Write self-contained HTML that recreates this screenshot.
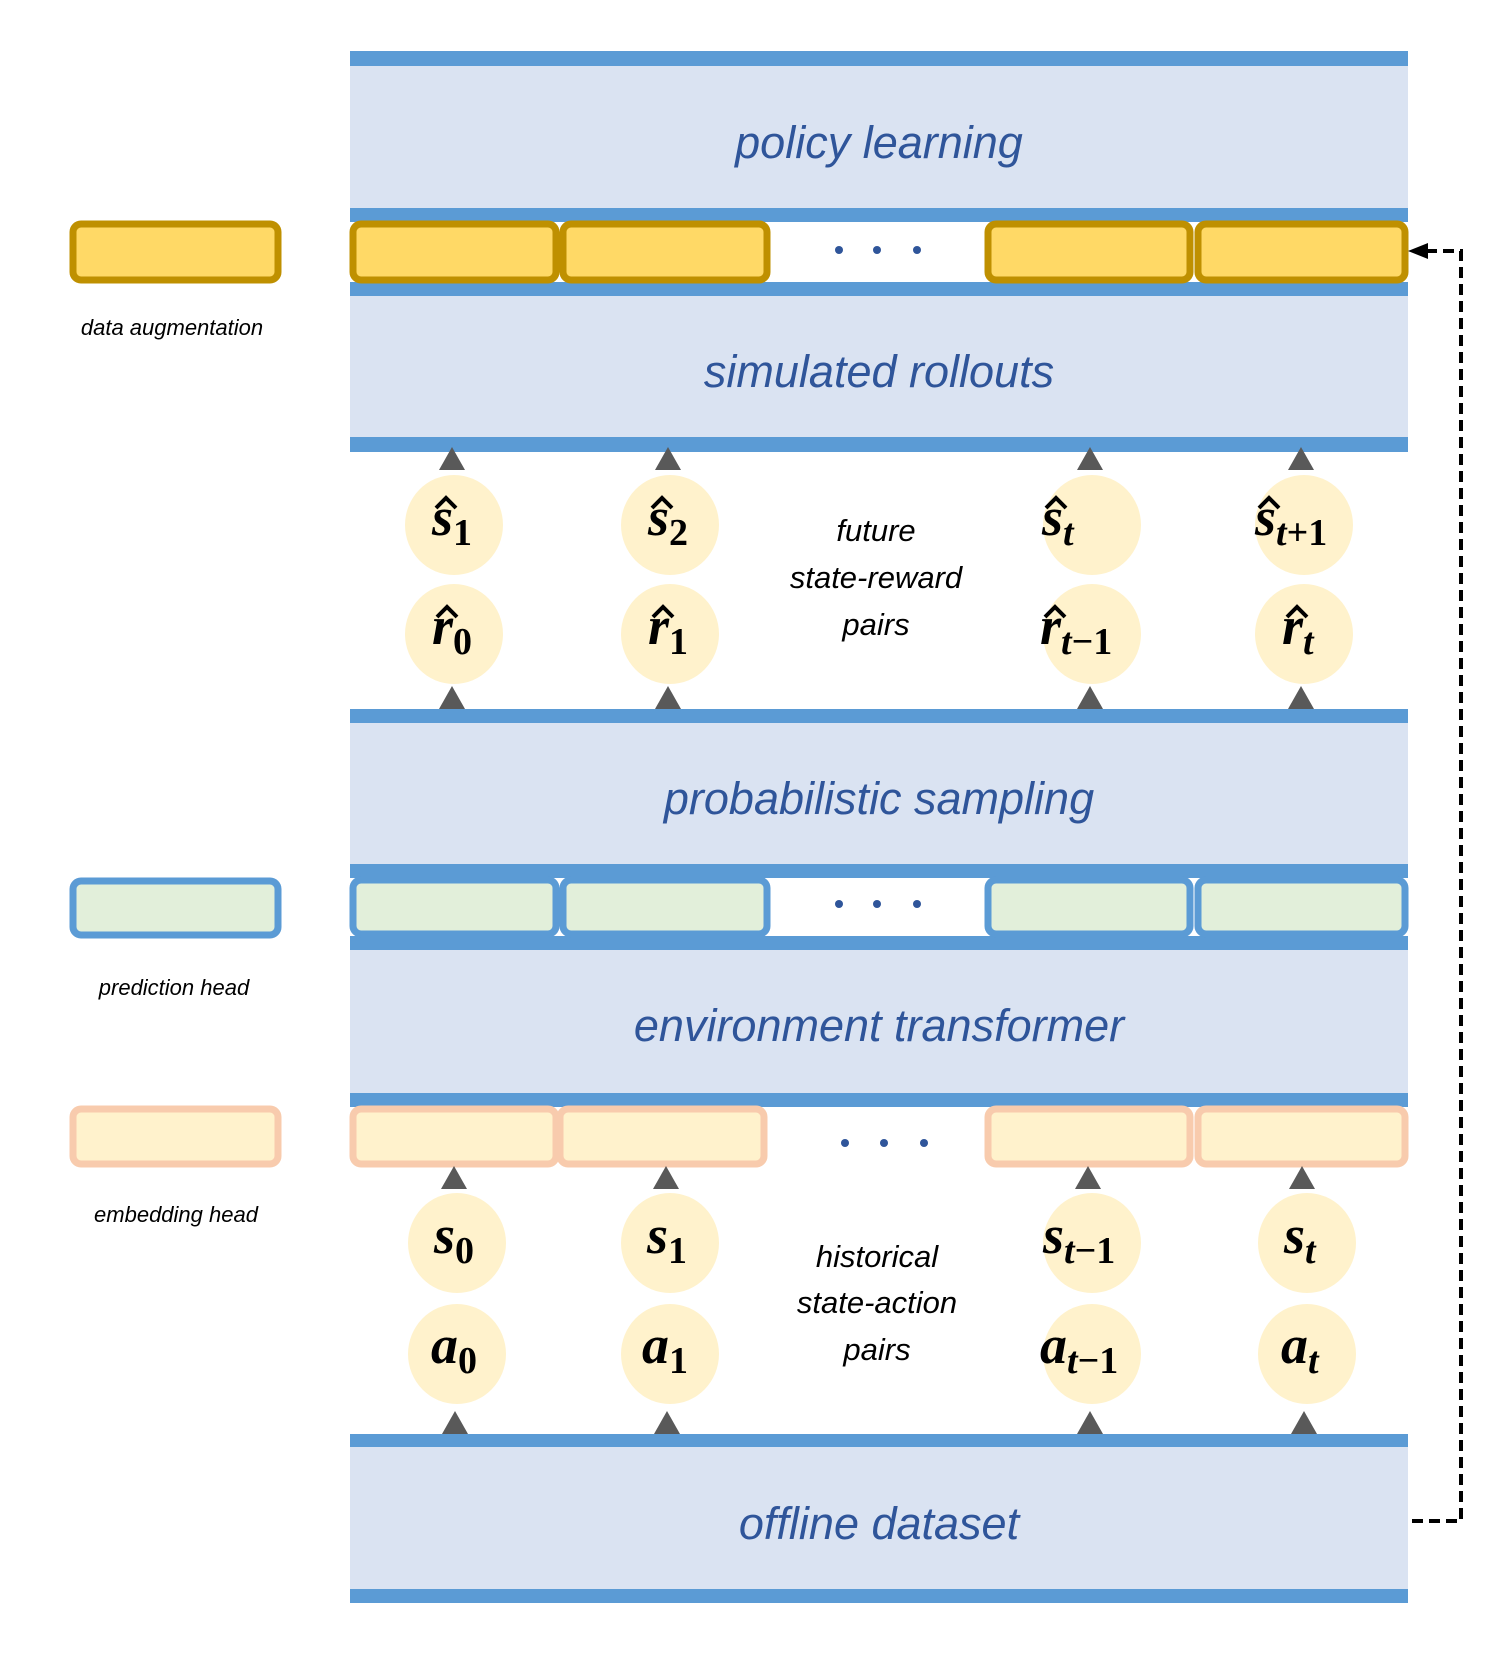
<!DOCTYPE html>
<html><head><meta charset="utf-8"><style>
html,body{margin:0;padding:0;background:#fff;}
svg{display:block;}
.t{font-family:"Liberation Sans",sans-serif;font-style:italic;fill:#2f559a;font-size:45px;text-anchor:middle;}
.l{font-family:"Liberation Sans",sans-serif;font-style:italic;fill:#000;font-size:22px;text-anchor:middle;}
.m{font-family:"Liberation Sans",sans-serif;font-style:italic;fill:#000;font-size:31px;text-anchor:middle;}
.v{font-family:"Liberation Serif",serif;font-style:italic;font-weight:bold;fill:#000;font-size:54px;}
.sub{font-size:38px;}
.n{font-style:normal;}
</style></head><body>
<svg width="1496" height="1654" viewBox="0 0 1496 1654" xmlns="http://www.w3.org/2000/svg">
<g fill="#dae3f2">
<rect x="350" y="66" width="1058" height="142"/>
<rect x="350" y="296" width="1058" height="141"/>
<rect x="350" y="723" width="1058" height="141"/>
<rect x="350" y="950" width="1058" height="143"/>
<rect x="350" y="1447" width="1058" height="142"/>
</g>
<g fill="#5b9bd5">
<rect x="350" y="51" width="1058" height="15"/>
<rect x="350" y="208" width="1058" height="14"/>
<rect x="350" y="282" width="1058" height="14"/>
<rect x="350" y="437" width="1058" height="15"/>
<rect x="350" y="709" width="1058" height="14"/>
<rect x="350" y="864" width="1058" height="14"/>
<rect x="350" y="936" width="1058" height="14"/>
<rect x="350" y="1093" width="1058" height="14"/>
<rect x="350" y="1434" width="1058" height="13"/>
<rect x="350" y="1589" width="1058" height="14"/>
</g>
<rect x="770" y="222" width="216" height="60" fill="#fff"/>
<rect x="770" y="878" width="216" height="58" fill="#fff"/>
<g fill="#ffd966" stroke="#bf9000" stroke-width="7">
<rect x="353" y="224" width="203" height="56" rx="8"/>
<rect x="563" y="224" width="204" height="56" rx="8"/>
<rect x="988" y="224" width="202" height="56" rx="8"/>
<rect x="1198" y="224" width="207" height="56" rx="8"/>
<rect x="73" y="224" width="205" height="56" rx="8"/>
</g>
<g fill="#e2efda" stroke="#5b9bd5" stroke-width="7">
<rect x="353" y="880" width="203" height="54" rx="8"/>
<rect x="563" y="880" width="204" height="54" rx="8"/>
<rect x="988" y="880" width="202" height="54" rx="8"/>
<rect x="1198" y="880" width="207" height="54" rx="8"/>
<rect x="73" y="881" width="205" height="54" rx="8"/>
</g>
<g fill="#fff2cc" stroke="#f8cbad" stroke-width="7">
<rect x="353" y="1109" width="203" height="55" rx="8"/>
<rect x="560" y="1109" width="204" height="55" rx="8"/>
<rect x="988" y="1109" width="202" height="55" rx="8"/>
<rect x="1198" y="1109" width="207" height="55" rx="8"/>
<rect x="73" y="1109" width="205" height="55" rx="8"/>
</g>
<g fill="#2f559a">
<circle cx="839" cy="250" r="4"/><circle cx="877" cy="250" r="4"/><circle cx="917" cy="250" r="4"/>
<circle cx="839" cy="904" r="4"/><circle cx="877" cy="904" r="4"/><circle cx="917" cy="904" r="4"/>
<circle cx="845" cy="1143" r="4"/><circle cx="884" cy="1143" r="4"/><circle cx="924" cy="1143" r="4"/>
</g>
<text class="t" x="879" y="158">policy learning</text>
<text class="t" x="879" y="387">simulated rollouts</text>
<text class="t" x="879" y="814">probabilistic sampling</text>
<text class="t" x="879" y="1041">environment transformer</text>
<text class="t" x="879" y="1539">offline dataset</text>
<text class="l" x="172" y="335">data augmentation</text>
<text class="l" x="174" y="995">prediction head</text>
<text class="l" x="176" y="1222">embedding head</text>
<g fill="#fff2cc">
<ellipse cx="454" cy="525" rx="49" ry="50"/><ellipse cx="670" cy="525" rx="49" ry="50"/>
<ellipse cx="1092" cy="525" rx="49" ry="50"/><ellipse cx="1304" cy="525" rx="49" ry="50"/>
<ellipse cx="454" cy="634" rx="49" ry="50"/><ellipse cx="670" cy="634" rx="49" ry="50"/>
<ellipse cx="1092" cy="634" rx="49" ry="50"/><ellipse cx="1304" cy="634" rx="49" ry="50"/>
<ellipse cx="457" cy="1243" rx="49" ry="50"/><ellipse cx="670" cy="1243" rx="49" ry="50"/>
<ellipse cx="1092" cy="1243" rx="49" ry="50"/><ellipse cx="1307" cy="1243" rx="49" ry="50"/>
<ellipse cx="457" cy="1354" rx="49" ry="50"/><ellipse cx="670" cy="1354" rx="49" ry="50"/>
<ellipse cx="1092" cy="1354" rx="49" ry="50"/><ellipse cx="1307" cy="1354" rx="49" ry="50"/>
</g>
<g fill="#595959">
<polygon points="452,447 439,470 465,470"/><polygon points="668,447 655,470 681,470"/>
<polygon points="1090,447 1077,470 1103,470"/><polygon points="1301,447 1288,470 1314,470"/>
<polygon points="452,686 439,709 465,709"/><polygon points="668,686 655,709 681,709"/>
<polygon points="1090,686 1077,709 1103,709"/><polygon points="1301,686 1288,709 1314,709"/>
<polygon points="454,1166 441,1189 467,1189"/><polygon points="666,1166 653,1189 679,1189"/>
<polygon points="1088,1166 1075,1189 1101,1189"/><polygon points="1302,1166 1289,1189 1315,1189"/>
<polygon points="455,1411 442,1434 468,1434"/><polygon points="667,1411 654,1434 680,1434"/>
<polygon points="1090,1411 1077,1434 1103,1434"/><polygon points="1304,1411 1291,1434 1317,1434"/>
</g>
<g class="v">
<text x="432" y="535">s<tspan class="sub n" dy="10">1</tspan></text>
<text x="648" y="535">s<tspan class="sub n" dy="10">2</tspan></text>
<text x="1042" y="535">s<tspan class="sub" dy="10">t</tspan></text>
<text x="1255" y="535">s<tspan class="sub" dy="10">t</tspan><tspan class="sub n">+1</tspan></text>
<text x="432" y="644">r<tspan class="sub n" dy="10">0</tspan></text>
<text x="648" y="644">r<tspan class="sub n" dy="10">1</tspan></text>
<text x="1040" y="644">r<tspan class="sub" dy="10">t</tspan><tspan class="sub n">−1</tspan></text>
<text x="1282" y="644">r<tspan class="sub" dy="10">t</tspan></text>
<text x="434" y="1253">s<tspan class="sub n" dy="10">0</tspan></text>
<text x="647" y="1253">s<tspan class="sub n" dy="10">1</tspan></text>
<text x="1043" y="1253">s<tspan class="sub" dy="10">t</tspan><tspan class="sub n">−1</tspan></text>
<text x="1284" y="1253">s<tspan class="sub" dy="10">t</tspan></text>
<text x="431" y="1363">a<tspan class="sub n" dy="10">0</tspan></text>
<text x="642" y="1363">a<tspan class="sub n" dy="10">1</tspan></text>
<text x="1040" y="1363">a<tspan class="sub" dy="10">t</tspan><tspan class="sub n">−1</tspan></text>
<text x="1281" y="1363">a<tspan class="sub" dy="10">t</tspan></text>
</g>
<g fill="none" stroke="#000" stroke-width="4" stroke-linejoin="miter">
<polyline points="436,508 446,498 456,508"/>
<polyline points="652,508 662,498 672,508"/>
<polyline points="1046,508 1056,498 1066,508"/>
<polyline points="1259,508 1269,498 1279,508"/>
<polyline points="437,617 447,607 457,617"/>
<polyline points="653,617 663,607 673,617"/>
<polyline points="1045,617 1055,607 1065,617"/>
<polyline points="1287,617 1297,607 1307,617"/>
</g>
<text class="m" x="876" y="541">future</text>
<text class="m" x="876" y="588">state-reward</text>
<text class="m" x="876" y="635">pairs</text>
<text class="m" x="877" y="1267">historical</text>
<text class="m" x="877" y="1313">state-action</text>
<text class="m" x="877" y="1360">pairs</text>
<path d="M1412,1521 H1461 V251 H1425" fill="none" stroke="#000" stroke-width="4" stroke-dasharray="11,6"/>
<polygon points="1408,251 1428,243 1428,259" fill="#000"/>
</svg>
</body></html>
